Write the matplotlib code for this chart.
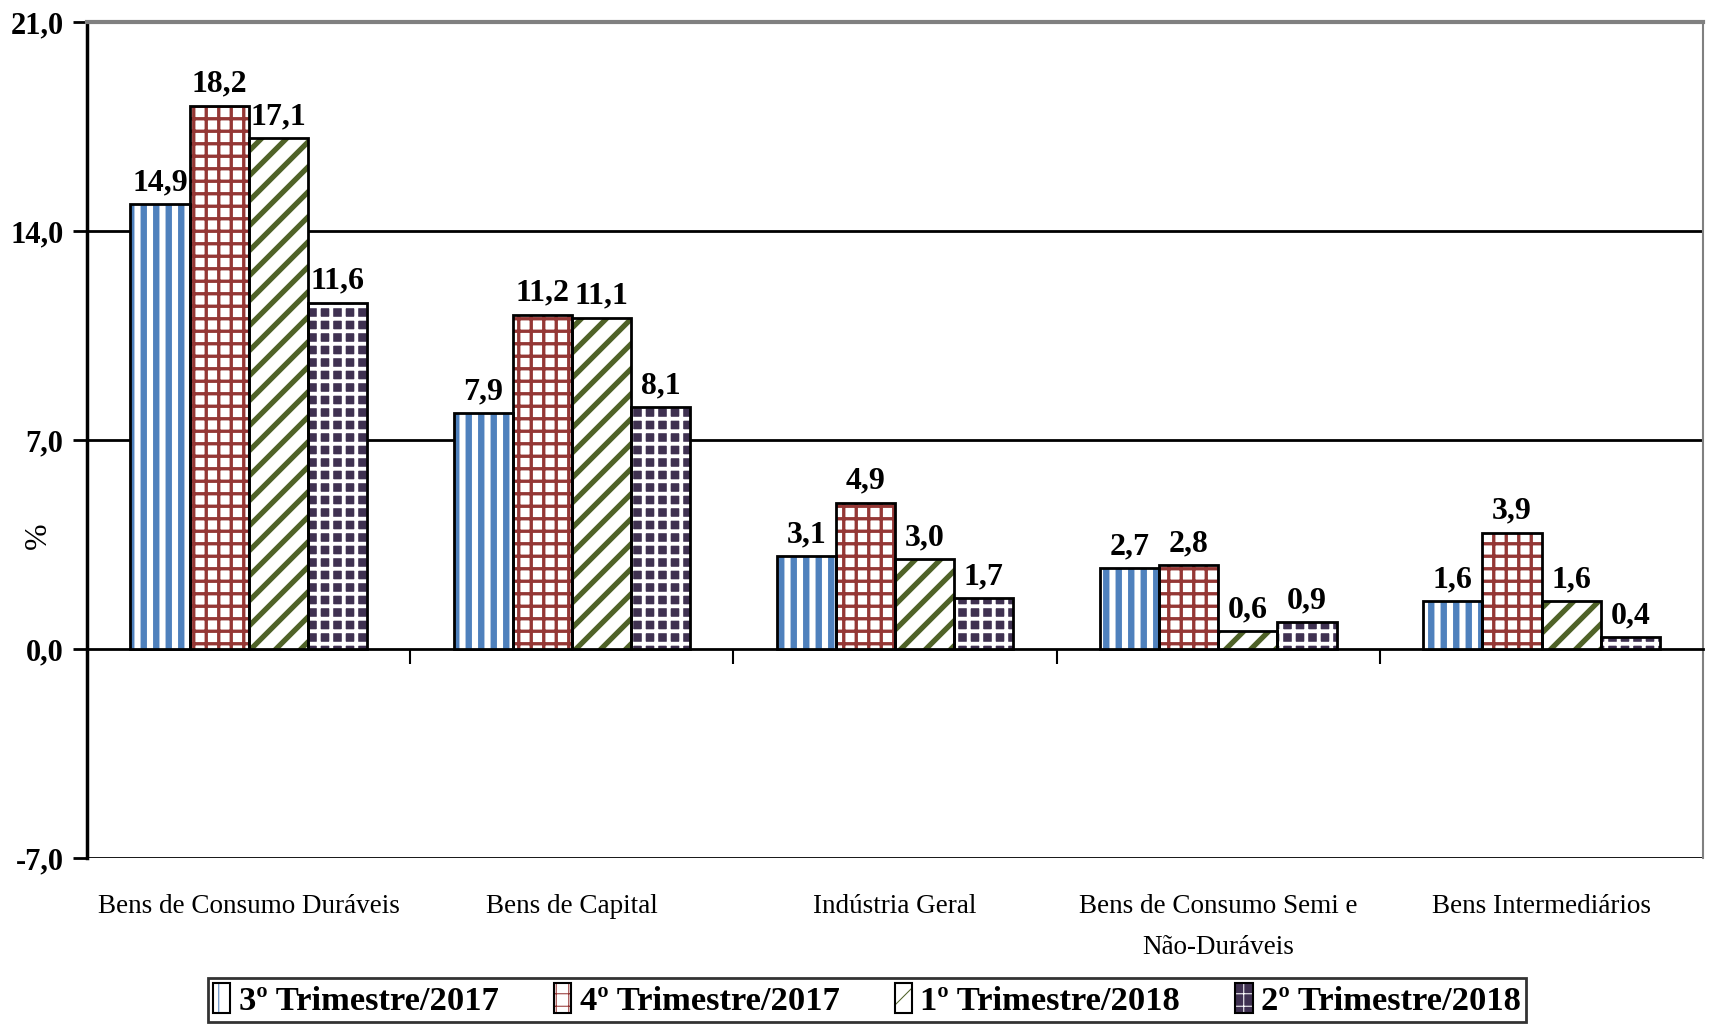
import matplotlib
matplotlib.use('Agg')
import matplotlib.pyplot as plt
import matplotlib.transforms as mtransforms
from matplotlib.patches import Patch

# Dados
categorias = ['Bens de Consumo Duráveis', 'Bens de Capital', 'Indústria Geral',
              'Bens de Consumo Semi e\nNão-Duráveis', 'Bens Intermediários']
series = ['3º Trimestre/2017', '4º Trimestre/2017', '1º Trimestre/2018', '2º Trimestre/2018']
tri3_2017 = [14.9, 7.9, 3.1, 2.7, 1.6]
tri4_2017 = [18.2, 11.2, 4.9, 2.8, 3.9]
tri1_2018 = [17.1, 11.1, 3.0, 0.6, 1.6]
tri2_2018 = [11.6, 8.1, 1.7, 0.9, 0.4]
yticks = [-7, 0, 7, 14, 21]

valores = [tri3_2017, tri4_2017, tri1_2018, tri2_2018]

# dpi 75 para hachuras mais densas; S converte tamanhos pensados para dpi 100
DPI = 75
S = 100 / DPI

# (cor de fundo, cor da hachura, hachura, espessura)
estilos = [('white', '#4F81BD', '|', 4.6),
           ('white', '#953735', '+', 2.4),
           ('white', '#4F6228', '/', 3.8),
           ('#3F3151', 'white', '+', 2.8)]

plt.rcParams['font.family'] = ['Liberation Serif', 'DejaVu Serif']

fig = plt.figure(figsize=(1710 / DPI, 1026 / DPI), dpi=DPI)
ax = fig.add_axes([0.0509, 0.1637, 0.9451, 0.8149])

largura = 0.183
x = list(range(len(categorias)))
handles = []
for k, (vals, (fc, hc, hatch, hlw)) in enumerate(zip(valores, estilos)):
    pos = [i + (k - 1.5) * largura for i in x]
    with plt.rc_context({'hatch.linewidth': hlw * S}):
        ax.bar(pos, vals, largura, color=fc, edgecolor=hc, hatch=hatch,
               linewidth=0, zorder=3)
        h1 = Patch(facecolor=fc, edgecolor=hc, hatch=hatch, linewidth=0)
    b2 = ax.bar(pos, vals, largura, facecolor='none', edgecolor='black',
                linewidth=2 * S, zorder=4)
    ax.bar_label(b2, labels=[f'{v:.1f}'.replace('.', ',') for v in vals],
                 padding=5 * S, fontsize=23 * S, fontweight='bold', zorder=5)
    h2 = Patch(facecolor='none', edgecolor='black', linewidth=1.5 * S)
    handles.append((h1, h2))

ax.set_xlim(-0.5, 4.5)
ax.set_ylim(-7, 21)
ax.set_yticks(yticks)
ax.set_yticklabels([f'{v:.1f}'.replace('.', ',') for v in yticks],
                   fontsize=22 * S, fontweight='bold')
ax.tick_params(axis='y', length=10 * S, width=2 * S, direction='out', pad=7 * S)

# grade
for v in [7, 14]:
    ax.axhline(v, color='black', linewidth=2 * S, zorder=1)

# eixo x na linha do zero, marcas entre categorias
ax.spines['bottom'].set_position(('data', 0))
ax.spines['bottom'].set_linewidth(2 * S)
ax.set_xticks([0.5, 1.5, 2.5, 3.5])
ax.set_xticklabels([])
ax.tick_params(axis='x', length=11 * S, width=1.5 * S, direction='out')
ax.axhline(-7, color='black', linewidth=2 * S, zorder=1)
ax.spines['left'].set_linewidth(2.5 * S)
ax.spines['top'].set_color('#808080')
ax.spines['top'].set_linewidth(3 * S)
ax.spines['right'].set_color('#808080')
ax.spines['right'].set_linewidth(1.5 * S)

trans = mtransforms.blended_transform_factory(ax.transData, ax.transAxes)
for i, cat in enumerate(categorias):
    ax.text(i, -0.043, cat, transform=trans, ha='center', va='top',
            fontsize=19.5 * S, linespacing=1.85)

ax.set_ylabel('%', fontsize=23 * S)
ax.yaxis.set_label_coords(-0.021, 0.386)

leg = fig.legend(handles, series, loc='lower center', bbox_to_anchor=(0.507, -0.013),
                 ncol=4, frameon=True, fancybox=False, handlelength=0.5,
                 handleheight=0.95, handletextpad=0.25, columnspacing=1.6,
                 borderpad=0.15, prop={'size': 24.8 * S, 'weight': 'bold'})
leg.get_frame().set_edgecolor('black')
leg.get_frame().set_linewidth(2 * S)

fig.savefig('out.png', dpi=DPI)
